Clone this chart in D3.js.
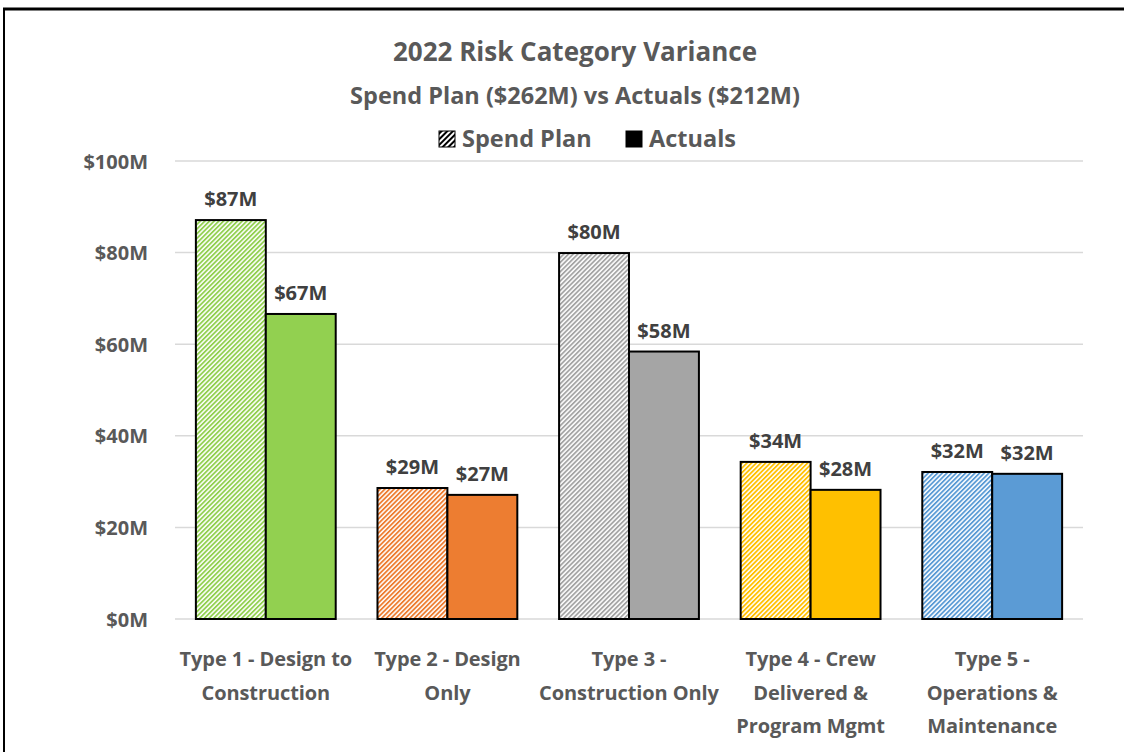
<!DOCTYPE html>
<html><head><meta charset="utf-8">
<script src="https://cdn.jsdelivr.net/npm/d3@7"></script>
<style>body{margin:0;background:#fff;} svg{display:block;}</style>
</head><body>
<script>
const categories = [["Type 1 - Design to","Construction"],["Type 2 - Design","Only"],["Type 3 -","Construction Only"],["Type 4 - Crew","Delivered &","Program Mgmt"],["Type 5 -","Operations &","Maintenance"]];
const spendPlan = [87.1, 28.6, 79.9, 34.3, 32.1];
const actuals = [66.6, 27.1, 58.4, 28.2, 31.7];
const colors = ["#92D050","#ED7D31","#A5A5A5","#FFC000","#5B9BD5"];
const yTicks = [0,20,40,60,80,100];
const seriesNames = ["Spend Plan","Actuals"];

const W=1124,H=752;
const font = "'Open Sans', sans-serif";
const svg = d3.select("body").append("svg").attr("width",W).attr("height",H);
const defs = svg.append("defs");
colors.forEach((c,i)=>{
  const p = defs.append("pattern").attr("id","h"+i).attr("patternUnits","userSpaceOnUse")
    .attr("width",3.3).attr("height",3.3).attr("patternTransform","rotate(45)");
  p.append("rect").attr("width",3.3).attr("height",3.3).attr("fill","#fff");
  p.append("rect").attr("width",1.8).attr("height",3.3).attr("fill",c);
});
const lp = defs.append("pattern").attr("id","hl").attr("patternUnits","userSpaceOnUse")
  .attr("width",4).attr("height",4).attr("patternTransform","rotate(45)");
lp.append("rect").attr("width",4).attr("height",4).attr("fill","#fff");
lp.append("rect").attr("width",2).attr("height",4).attr("fill","#000");

// frame
svg.append("line").attr("x1",3).attr("x2",W).attr("y1",9).attr("y2",9).attr("stroke","#000").attr("stroke-width",3);
svg.append("line").attr("x1",4).attr("x2",4).attr("y1",8).attr("y2",H).attr("stroke","#000").attr("stroke-width",2);

const x0 = d3.scaleBand().domain(d3.range(5)).range([175,1083]).paddingInner(0.23).paddingOuter(0.115);
const x1 = d3.scaleBand().domain([0,1]).range([0,x0.bandwidth()]);
const y = d3.scaleLinear().domain([0,100]).range([619,161]);

const g = svg.append("g");
g.selectAll(".grid").data(yTicks).join("line")
  .attr("x1",175).attr("x2",1083).attr("y1",d=>y(d)).attr("y2",d=>y(d))
  .attr("stroke","#d9d9d9").attr("stroke-width",1.5);

const yAxis = d3.axisLeft(y).tickValues(yTicks).tickFormat(d=>"$"+d+"M").tickSize(0).tickPadding(0);
const ya = svg.append("g").attr("transform","translate(148,0)").call(yAxis);
ya.select(".domain").remove();
ya.selectAll("text").attr("font-family",font).attr("font-weight",700).attr("font-size",20).attr("fill","#595959").attr("dy","0.35em");

categories.forEach((cat,i)=>{
  const gx = x0(i);
  [spendPlan[i],actuals[i]].forEach((v,j)=>{
    g.append("rect").attr("x",gx+x1(j)).attr("y",y(v)).attr("width",x1.bandwidth()).attr("height",y(0)-y(v))
      .attr("fill", j===0 ? `url(#h${i})` : colors[i]).attr("stroke","#000").attr("stroke-width",2);
    g.append("text").attr("x",gx+x1(j)+x1.bandwidth()/2).attr("y",y(v)-14)
      .attr("text-anchor","middle").attr("font-family",font).attr("font-weight",700).attr("font-size",20)
      .attr("fill","#404040").text("$"+Math.round(v)+"M");
  });
  const t = svg.append("text").attr("text-anchor","middle").attr("font-family",font).attr("font-weight",700)
    .attr("font-size",20).attr("fill","#595959").attr("letter-spacing","-0.1");
  cat.forEach((line,k)=>{
    t.append("tspan").attr("x",gx+x0.bandwidth()/2).attr("y",666+k*33.5).text(line);
  });
});

svg.append("text").attr("x",575).attr("y",61).attr("text-anchor","middle").attr("font-family",font)
  .attr("font-weight",700).attr("font-size",26).attr("fill","#595959").text("2022 Risk Category Variance");
svg.append("text").attr("x",575).attr("y",104).attr("text-anchor","middle").attr("font-family",font)
  .attr("font-weight",700).attr("font-size",23.5).attr("fill","#595959").text("Spend Plan ($262M) vs Actuals ($212M)");

const leg = svg.append("g");
const legItems = [{x:439,fill:"url(#hl)",label:seriesNames[0]},{x:626,fill:"#000",label:seriesNames[1]}];
legItems.forEach(d=>{
  leg.append("rect").attr("x",d.x).attr("y",131).attr("width",16).attr("height",16).attr("fill",d.fill)
    .attr("stroke","#000").attr("stroke-width",1);
  leg.append("text").attr("x",d.x+23).attr("y",147).attr("font-family",font).attr("font-weight",700)
    .attr("font-size",23.5).attr("fill","#595959").text(d.label);
});
</script>
</body></html>
